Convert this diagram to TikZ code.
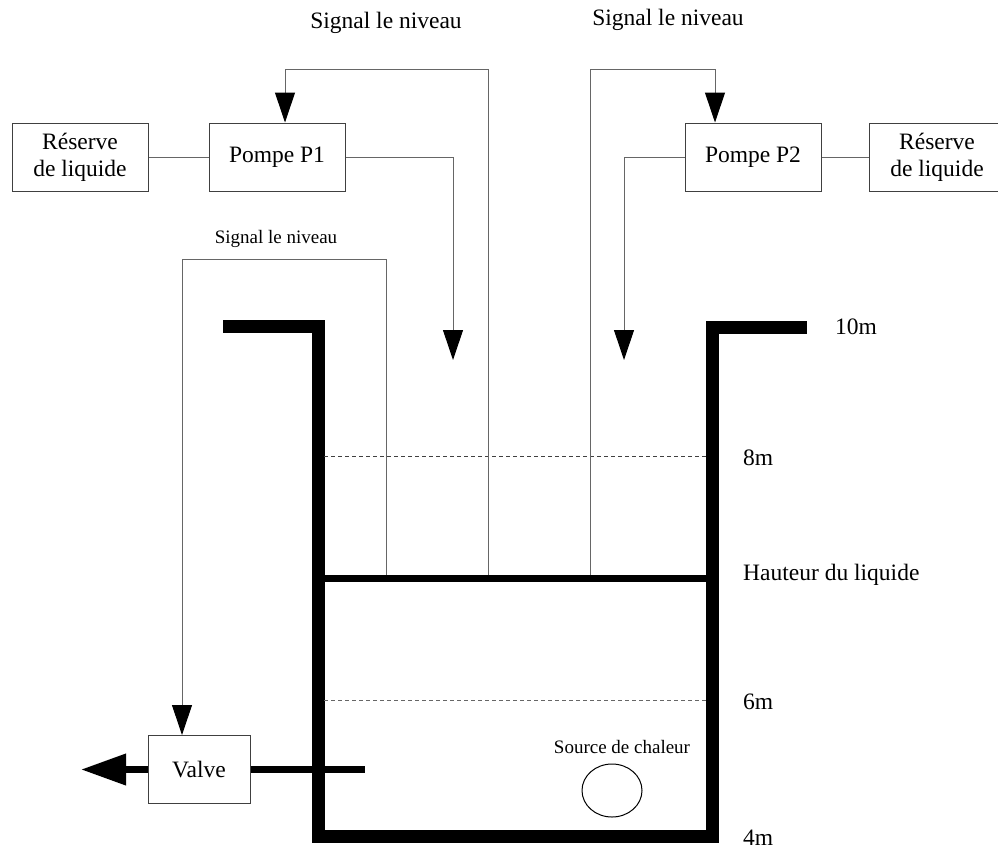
\documentclass[tikz,border=0pt]{standalone}
\usepackage{fontspec}
\setmainfont{Liberation Serif}
\usetikzlibrary{arrows.meta}

\begin{document}
\begin{tikzpicture}[x=1pt,y=-1pt,
  box/.style={draw=black!75, line width=1pt, minimum width=136pt, minimum height=68pt, inner sep=0pt, align=center, font=\fontsize{23.5}{27}\selectfont},
  sig/.style={draw=black!60, line width=1pt},
  tip/.style={-{Triangle[length=30pt,width=20pt,color=black]}},
  wall/.style={line width=13pt, line join=miter},
  big/.style={font=\fontsize{23.5}{27}\selectfont, inner sep=0pt},
  small/.style={font=\fontsize{19}{22}\selectfont, inner sep=0pt}]
\useasboundingbox (0,0) rectangle (998,849);

\node[box] (res1) at (80,157) {Réserve\\de liquide};
\node[box] (pompe1) at (277,157) {Pompe P1};
\node[box] (pompe2) at (753,157) {Pompe P2};
\node[box] (res2) at (937,157) {Réserve\\de liquide};
\node[box, minimum width=102pt] (valve) at (199,769.5) {Valve};

\draw[wall] (223,326.5) -- (318,326.5) -- (318,836.5) -- (712.5,836.5) -- (712.5,327) -- (807,327);
\draw[line width=7.5pt] (312,578.5) -- (719,578.5);
\draw[black!75, line width=1pt, dash pattern=on 4pt off 3pt] (324,456) -- (706,456);
\draw[black!60, line width=1pt, dash pattern=on 4pt off 3pt] (324,700) -- (706,700);

\coordinate (lev1) at (386,575);
\coordinate (lev2) at (488,575);
\coordinate (lev3) at (590,575);
\coordinate (in1) at (453,360);
\coordinate (in2) at (624,360);
\coordinate (out) at (365,769.5);
\coordinate (exit) at (81,769.5);

\draw[sig] (res1) -- (pompe1);
\draw[sig] (pompe2) -- (res2);
\draw[sig, tip] (pompe1.east) -| (in1);
\draw[sig, tip] (pompe2.west) -| (in2);
\draw[sig, tip] (lev2) -- (488,69) -| ([xshift=8pt]pompe1.north);
\draw[sig, tip] (lev3) -- (590,69) -| ([xshift=-38pt]pompe2.north);
\draw[sig, tip] (lev1) -- (386,259) -| ([xshift=-17pt]valve.north);

\draw[line width=7pt] (valve.east) -- (out);
\draw[line width=7pt, -{Triangle[length=45pt,width=30pt]}] (valve.west) -- (exit);

\draw[line width=1pt] (612,790.5) ellipse (30pt and 26.5pt);

\node[big, anchor=base] (sigtop1) at (386,28) {Signal le niveau};
\node[big, anchor=base] (sigtop2) at (668,25) {Signal le niveau};
\node[small, anchor=base] (sigval) at (276,243) {Signal le niveau};
\node[small, anchor=base] (chaleur) at (622,753) {Source de chaleur};
\node[big, anchor=base west] (h10) at (835,334) {10m};
\node[big, anchor=base west] (h8) at (743,465) {8m};
\node[big, anchor=base west] (hliq) at (743,580) {Hauteur du liquide};
\node[big, anchor=base west] (h6) at (743,709) {6m};
\node[big, anchor=base west] (h4) at (743,845) {4m};
\end{tikzpicture}
\end{document}
